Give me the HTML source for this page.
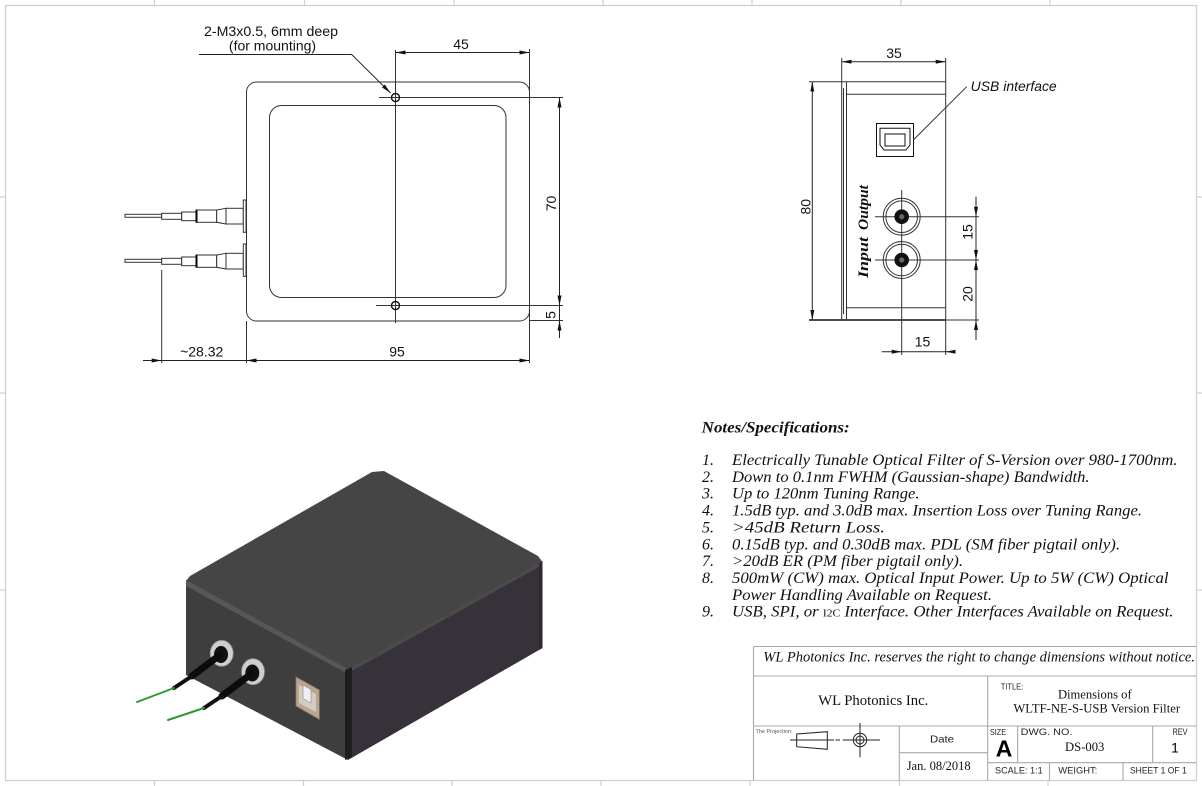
<!DOCTYPE html>
<html><head><meta charset="utf-8"><style>
html,body{margin:0;padding:0;background:#fff;}
svg{display:block;}
.s{font-family:"Liberation Sans",Arial,sans-serif;}
.r{font-family:"Liberation Serif","Times New Roman",serif;}
</style></head><body>
<svg width="1202" height="786" viewBox="0 0 1202 786" xmlns="http://www.w3.org/2000/svg">
<defs>
<marker id="a" viewBox="0 0 10 4" refX="10" refY="2" markerWidth="10" markerHeight="4" markerUnits="userSpaceOnUse" orient="auto-start-reverse"><path d="M0,0 L10,2 L0,4z" fill="#111"/></marker>
</defs>
<rect width="1202" height="786" fill="#fff"/>
<!-- frame -->
<rect x="5.5" y="5.5" width="1191" height="775" fill="none" stroke="#cfcfcf" stroke-width="1.3"/>
<g stroke="#cfcfcf" stroke-width="1.2">
<line x1="154.5" y1="0" x2="154.5" y2="5"/><line x1="304.5" y1="0" x2="304.5" y2="5"/><line x1="454" y1="0" x2="454" y2="5"/><line x1="603" y1="0" x2="603" y2="5"/><line x1="752" y1="0" x2="752" y2="5"/><line x1="901" y1="0" x2="901" y2="5"/><line x1="1050" y1="0" x2="1050" y2="5"/>
<line x1="154.5" y1="781" x2="154.5" y2="786"/><line x1="303.5" y1="781" x2="303.5" y2="786"/><line x1="452" y1="781" x2="452" y2="786"/><line x1="601" y1="781" x2="601" y2="786"/><line x1="750" y1="781" x2="750" y2="786"/><line x1="899.5" y1="781" x2="899.5" y2="786"/><line x1="1048" y1="781" x2="1048" y2="786"/>
<line x1="0" y1="197" x2="5" y2="197"/><line x1="0" y1="393" x2="5" y2="393"/><line x1="0" y1="590" x2="5" y2="590"/>
<line x1="1197" y1="197" x2="1202" y2="197"/><line x1="1197" y1="393" x2="1202" y2="393"/><line x1="1197" y1="590" x2="1202" y2="590"/>
</g>

<!-- TOP-LEFT VIEW -->
<g fill="none" stroke="#333" stroke-width="1">
<rect x="246.5" y="82" width="283" height="239" rx="10"/>
<rect x="269.5" y="105.5" width="236.5" height="192" rx="12"/>
<line x1="395.5" y1="50" x2="395.5" y2="323"/>
<line x1="379" y1="97.5" x2="563" y2="97.5"/>
<line x1="376" y1="305.5" x2="563" y2="305.5"/>
<line x1="529" y1="320.5" x2="563" y2="320.5"/>
<line x1="529.5" y1="49" x2="529.5" y2="363"/>
<line x1="246.5" y1="321" x2="246.5" y2="363"/>
<line x1="161.7" y1="270" x2="161.7" y2="363"/>
</g>
<g stroke="#111" stroke-width="1.4" fill="none">
<circle cx="395.5" cy="97.5" r="4"/>
<circle cx="395.5" cy="305.5" r="4"/>
</g>
<g stroke="#222" stroke-width="1" fill="none">
<line x1="395.5" y1="52.5" x2="529.5" y2="52.5" marker-start="url(#a)" marker-end="url(#a)"/>
<line x1="559.5" y1="97.5" x2="559.5" y2="305.5" marker-start="url(#a)" marker-end="url(#a)"/>
<line x1="559.5" y1="305.5" x2="559.5" y2="320.5"/>
<line x1="559.5" y1="338" x2="559.5" y2="320.5" marker-end="url(#a)"/>
<line x1="246.5" y1="360.5" x2="529.5" y2="360.5" marker-start="url(#a)" marker-end="url(#a)"/>
<line x1="143" y1="360.5" x2="161.7" y2="360.5" marker-end="url(#a)"/>
<line x1="161.7" y1="360.5" x2="246.5" y2="360.5"/>
<polyline points="199,54.5 351.7,54.5 390.5,93" marker-end="url(#a)"/>
</g>
<g class="s" fill="#111" font-size="14">
<text x="271" y="36" text-anchor="middle" textLength="134" lengthAdjust="spacingAndGlyphs">2-M3x0.5, 6mm deep</text>
<text x="272.5" y="50.5" text-anchor="middle">(for mounting)</text>
<text x="461" y="49" text-anchor="middle">45</text>
<text x="397" y="356.5" text-anchor="middle">95</text>
<text x="201.7" y="356.5" text-anchor="middle">~28.32</text>
<text transform="translate(556,203.5) rotate(-90)" text-anchor="middle">70</text>
<text transform="translate(555.5,315) rotate(-90)" text-anchor="middle">5</text>
</g>
<!-- fibers -->
<g fill="#fff" stroke="#333" stroke-width="1">
<g>
<rect x="125" y="214.3" width="36.7" height="3"/>
<rect x="161.7" y="213.3" width="20" height="6"/>
<rect x="181.7" y="212" width="14.3" height="8.7"/>
<rect x="196" y="210" width="20.7" height="12.3"/>
<line x1="196.5" y1="210" x2="196.5" y2="222.3" stroke="#000" stroke-width="2"/>
<polygon points="216.7,210 226,208.3 226,224 216.7,222.3"/>
<rect x="226" y="208.3" width="17.3" height="15.7"/>
<rect x="243.3" y="200" width="2.7" height="32.3"/>
</g>
<g transform="translate(0,45)">
<rect x="125" y="214.3" width="36.7" height="3"/>
<rect x="161.7" y="213.3" width="20" height="6"/>
<rect x="181.7" y="212" width="14.3" height="8.7"/>
<rect x="196" y="210" width="20.7" height="12.3"/>
<line x1="196.5" y1="210" x2="196.5" y2="222.3" stroke="#000" stroke-width="2"/>
<polygon points="216.7,210 226,208.3 226,224 216.7,222.3"/>
<rect x="226" y="208.3" width="17.3" height="15.7"/>
<rect x="243.3" y="199" width="2.7" height="32.3"/>
</g>
</g>

<!-- RIGHT SIDE VIEW -->
<g fill="none" stroke="#333" stroke-width="1">
<line x1="809" y1="81.7" x2="945.7" y2="81.7"/>
<line x1="809" y1="320" x2="945.7" y2="320" stroke-width="1.6" stroke="#111"/>
<line x1="841.7" y1="58" x2="841.7" y2="320"/>
<line x1="843.5" y1="88" x2="843.5" y2="314"/>
<line x1="846.5" y1="81.7" x2="846.5" y2="320"/>
<line x1="945.7" y1="58" x2="945.7" y2="355"/>
<line x1="846.5" y1="94.3" x2="945.7" y2="94.3"/>
<line x1="846.5" y1="307.7" x2="945.7" y2="307.7"/>
<rect x="876.5" y="123.5" width="37" height="33" stroke="#111"/>
<path d="M880,128.3 H910 V145 L906,150 H884 L880,145 Z" stroke="#111"/>
<rect x="885" y="134" width="20" height="12" stroke="#111"/>
<line x1="913.3" y1="140" x2="966.7" y2="86.7"/>
<line x1="901.7" y1="190" x2="901.7" y2="355"/>
<line x1="875" y1="216.7" x2="979" y2="216.7"/>
<line x1="875" y1="260" x2="979" y2="260"/>
<line x1="945.7" y1="320" x2="979" y2="320"/>
<circle cx="901.7" cy="216.7" r="18.5"/><circle cx="901.7" cy="216.7" r="15.8"/>
<circle cx="901.7" cy="260" r="18.5"/><circle cx="901.7" cy="260" r="15.8"/>
</g>
<circle cx="901.7" cy="216.7" r="7.3" fill="#111"/><circle cx="901.7" cy="216.7" r="2.6" fill="#666"/>
<circle cx="901.7" cy="260" r="7.3" fill="#111"/><circle cx="901.7" cy="260" r="2.6" fill="#666"/>
<g stroke="#222" stroke-width="1" fill="none">
<line x1="812.3" y1="81.7" x2="812.3" y2="320" marker-start="url(#a)" marker-end="url(#a)"/>
<line x1="841.7" y1="61.7" x2="945.7" y2="61.7" marker-start="url(#a)" marker-end="url(#a)"/>
<line x1="976" y1="196.7" x2="976" y2="216.7" marker-end="url(#a)"/>
<line x1="976" y1="216.7" x2="976" y2="260" marker-end="url(#a)"/>
<line x1="976" y1="260" x2="976" y2="320" marker-start="url(#a)"/>
<line x1="976" y1="340" x2="976" y2="320" marker-end="url(#a)"/>
<line x1="881.7" y1="351.7" x2="901.7" y2="351.7" marker-end="url(#a)"/>
<line x1="901.7" y1="351.7" x2="945.7" y2="351.7"/>
<line x1="955" y1="351.7" x2="945.7" y2="351.7" marker-end="url(#a)"/>
</g>
<g class="s" fill="#111" font-size="14">
<text x="894" y="58" text-anchor="middle">35</text>
<text transform="translate(810.5,206.7) rotate(-90)" text-anchor="middle">80</text>
<text transform="translate(972.5,232) rotate(-90)" text-anchor="middle">15</text>
<text transform="translate(972.5,294) rotate(-90)" text-anchor="middle">20</text>
<text x="922.5" y="346.5" text-anchor="middle">15</text>
<text x="970.7" y="91" font-style="italic" font-size="13.5" textLength="86" lengthAdjust="spacingAndGlyphs">USB interface</text>
</g>
<g class="r" fill="#111" font-weight="bold" font-style="italic" font-size="15">
<text transform="translate(868,207.5) rotate(-90)" text-anchor="middle" textLength="45" lengthAdjust="spacingAndGlyphs">Output</text>
<text transform="translate(868,257.5) rotate(-90)" text-anchor="middle" textLength="41" lengthAdjust="spacingAndGlyphs">Input</text>
</g>

<!-- NOTES -->
<g class="r" fill="#111" font-style="italic" font-size="16">
<text x="701.7" y="432.5" font-weight="bold" textLength="148" lengthAdjust="spacingAndGlyphs">Notes/Specifications:</text>
<text x="702" y="465">1.</text><text x="732" y="465" textLength="445.5" lengthAdjust="spacingAndGlyphs">Electrically Tunable Optical Filter of S-Version over 980-1700nm.</text>
<text x="702" y="481.9">2.</text><text x="732" y="481.9" textLength="357.5" lengthAdjust="spacingAndGlyphs">Down to 0.1nm FWHM (Gaussian-shape) Bandwidth.</text>
<text x="702" y="498.7">3.</text><text x="732" y="498.7" textLength="187.5" lengthAdjust="spacingAndGlyphs">Up to 120nm Tuning Range.</text>
<text x="702" y="515.6">4.</text><text x="732" y="515.6" textLength="410" lengthAdjust="spacingAndGlyphs">1.5dB typ. and 3.0dB max. Insertion Loss over Tuning Range.</text>
<text x="702" y="532.4">5.</text><text x="732" y="532.4" textLength="153" lengthAdjust="spacingAndGlyphs">&gt;45dB Return Loss.</text>
<text x="702" y="549.3">6.</text><text x="732" y="549.3" textLength="388" lengthAdjust="spacingAndGlyphs">0.15dB typ. and 0.30dB max. PDL (SM fiber pigtail only).</text>
<text x="702" y="566.1">7.</text><text x="732" y="566.1" textLength="231" lengthAdjust="spacingAndGlyphs">&gt;20dB ER (PM fiber pigtail only).</text>
<text x="702" y="583">8.</text><text x="732" y="583" textLength="436.5" lengthAdjust="spacingAndGlyphs">500mW (CW) max. Optical Input Power. Up to 5W (CW) Optical</text>
<text x="732" y="599.8" textLength="260" lengthAdjust="spacingAndGlyphs">Power Handling Available on Request.</text>
<text x="702" y="616.7">9.</text><text x="732" y="616.7" textLength="441.5" lengthAdjust="spacingAndGlyphs">USB, SPI, or <tspan font-size="11" font-style="normal">I2C</tspan> Interface. Other Interfaces Available on Request.</text>
</g>

<!-- TITLE BLOCK -->
<g stroke="#a8a8a8" stroke-width="1.1" fill="none">
<line x1="753.5" y1="646.5" x2="1196.5" y2="646.5"/>
<line x1="753.5" y1="646.5" x2="753.5" y2="780.5"/>
<line x1="753.5" y1="676" x2="1196.5" y2="676"/>
<line x1="753.5" y1="726" x2="1196.5" y2="726"/>
<line x1="987.7" y1="676" x2="987.7" y2="780.5"/>
<line x1="899.3" y1="726" x2="899.3" y2="780.5"/>
<line x1="899.3" y1="752.7" x2="987.7" y2="752.7"/>
<line x1="987.7" y1="762.7" x2="1196.5" y2="762.7"/>
<line x1="1017.7" y1="726" x2="1017.7" y2="762.7"/>
<line x1="1152.7" y1="726" x2="1152.7" y2="762.7"/>
<line x1="1049.5" y1="762.7" x2="1049.5" y2="780.5"/>
<line x1="1123" y1="762.7" x2="1123" y2="780.5"/>
</g>
<g class="r" fill="#111">
<text x="763.3" y="661.7" font-style="italic" font-size="14.5" textLength="431.7" lengthAdjust="spacingAndGlyphs">WL Photonics Inc. reserves the right to change dimensions without notice.</text>
<text x="873.3" y="705" text-anchor="middle" font-size="14.5" textLength="110" lengthAdjust="spacingAndGlyphs">WL Photonics Inc.</text>
<text x="1094.8" y="698.3" text-anchor="middle" font-size="13" textLength="73.7" lengthAdjust="spacingAndGlyphs">Dimensions of</text>
<text x="1096.7" y="712.7" text-anchor="middle" font-size="13" textLength="166.7" lengthAdjust="spacingAndGlyphs">WLTF-NE-S-USB Version Filter</text>
<text x="938.7" y="770" text-anchor="middle" font-size="12.5" textLength="64" lengthAdjust="spacingAndGlyphs">Jan. 08/2018</text>
<text x="1084.7" y="751" text-anchor="middle" font-size="12.5" textLength="39.3" lengthAdjust="spacingAndGlyphs">DS-003</text>
</g>
<g class="s" fill="#222">
<text x="1000.7" y="689.3" font-size="8" textLength="22.6" lengthAdjust="spacingAndGlyphs">TITLE:</text>
<text x="755.5" y="733" font-size="5.5" fill="#555">The Projection:</text>
<text x="942" y="742.7" text-anchor="middle" font-size="10.5" textLength="24" lengthAdjust="spacingAndGlyphs">Date</text>
<text x="990" y="735" font-size="8.5" textLength="16" lengthAdjust="spacingAndGlyphs">SIZE</text>
<text x="1020.7" y="735" font-size="9.5" textLength="51.7" lengthAdjust="spacingAndGlyphs">DWG.  NO.</text>
<text x="1180" y="735" text-anchor="middle" font-size="9" textLength="15" lengthAdjust="spacingAndGlyphs">REV</text>
<text x="1004" y="756.7" text-anchor="middle" font-size="23" font-weight="bold" fill="#000">A</text>
<text x="1175" y="752.7" text-anchor="middle" font-size="14" fill="#000">1</text>
<text x="995" y="773.3" font-size="9.5" textLength="47.7" lengthAdjust="spacingAndGlyphs">SCALE: 1:1</text>
<text x="1058.3" y="773.3" font-size="9.5" textLength="39" lengthAdjust="spacingAndGlyphs">WEIGHT:</text>
<text x="1130" y="773.3" font-size="9.5" textLength="56.7" lengthAdjust="spacingAndGlyphs">SHEET 1 OF 1</text>
</g>
<!-- projection symbol -->
<g stroke="#222" stroke-width="1" fill="none">
<polygon points="796.7,734 827.3,731.7 827.3,749.3 796.7,746.7"/>
<line x1="790" y1="740" x2="834" y2="740"/>
<line x1="835.5" y1="740" x2="840" y2="740"/>
<circle cx="860" cy="740" r="6.7"/>
<circle cx="860" cy="740" r="4"/>
<line x1="842.7" y1="740" x2="880" y2="740"/>
<line x1="860" y1="723" x2="860" y2="757.3"/>
</g>

<!-- 3D RENDER -->
<g>
<polygon points="348,669 542.5,561 542.5,648 348,760" fill="#37323a"/>
<polygon points="186,580 348,669 348,760 186,675" fill="#3e3e3e"/>
<polygon points="186,581 190,576 372,472 384,471 538,556 542.5,562 352,669 344,669" fill="#454545"/>
<polygon points="186,580 348,669 348,674 186,586" fill="#575757"/>
<polygon points="348,669 542.5,561 542.5,565 350,672" fill="#4a4a4a"/>
<polygon points="345,670 352,667 352,757 345,760" fill="#1e1e1e"/>
<polygon points="539,563 542.5,561 542.5,648 539,650" fill="#2e2a30"/>
<!-- washers -->
<ellipse cx="221.7" cy="653.3" rx="11.5" ry="13" fill="#cfcfcf" stroke="#8f8f8f" stroke-width="0.8"/>
<ellipse cx="221" cy="654.5" rx="7" ry="8.5" fill="#111"/>
<ellipse cx="253" cy="671.7" rx="11.5" ry="13" fill="#cfcfcf" stroke="#8f8f8f" stroke-width="0.8"/>
<ellipse cx="252.3" cy="673" rx="7" ry="8.5" fill="#111"/>
<!-- boots & fibers -->
<g stroke-linecap="round" fill="none">
<line x1="220" y1="655" x2="192" y2="676" stroke="#0c0c0c" stroke-width="7"/>
<line x1="192" y1="676" x2="174" y2="688" stroke="#111" stroke-width="4"/>
<line x1="174" y1="688" x2="137" y2="702" stroke="#2c9a33" stroke-width="2"/>
<line x1="251" y1="674" x2="222" y2="696" stroke="#0c0c0c" stroke-width="7"/>
<line x1="222" y1="696" x2="204" y2="708" stroke="#111" stroke-width="4"/>
<line x1="204" y1="708" x2="168" y2="720" stroke="#2c9a33" stroke-width="2"/>
</g>
<!-- usb port -->
<polygon points="296,677 319.3,690 319.3,719.3 296,706" fill="#b8a790" stroke="#8c7c68" stroke-width="0.8"/>
<polygon points="299,685 316,694 316,712 299,703" fill="#d8ccc0"/>
<polygon points="303,685 311,689.5 311,703 303,698.5" fill="#eeeef4" stroke="#777" stroke-width="0.5"/>
</g>
</svg>
</body></html>
